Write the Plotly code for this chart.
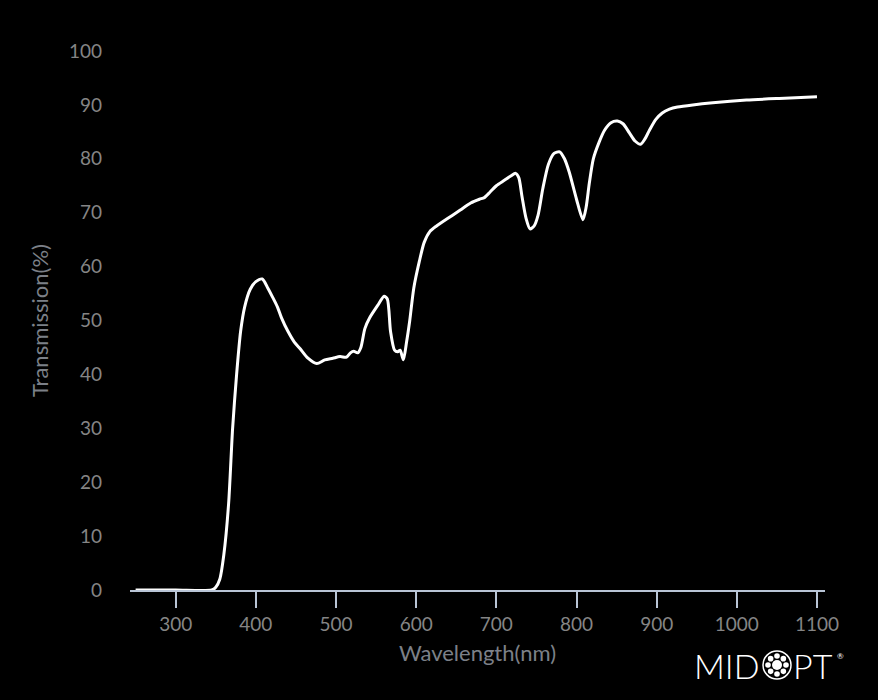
import math
import plotly.graph_objects as go

wavelength = [250, 300, 345, 350, 355, 360, 366, 371, 376, 381, 386, 393, 400, 408, 415, 421, 427, 432, 440, 448,
              455, 465, 476, 486, 496, 505, 513, 518, 522, 527, 531, 536, 542, 552, 560, 564, 568, 573, 577,
              580, 584, 588, 592, 597, 604, 610, 617, 625, 633, 645, 655, 668, 679, 685, 692, 700, 710, 718,
              724, 728, 732, 737, 742, 747, 752, 758, 765, 772, 779, 785, 791, 800, 808, 812, 816, 821, 828,
              835, 843, 851, 858, 866, 873, 880, 885, 891, 899, 907, 916, 926, 945, 970, 1012, 1053, 1100]
transmission = [0, 0, 0, 0.5, 2, 6.5, 16, 30, 40, 48, 52.5, 55.8, 57.2, 57.7, 56, 54.3, 52.5, 50.5, 48, 46,
                44.8, 43, 42, 42.7, 43, 43.3, 43.2, 44, 44.3, 44, 45, 48.5, 50.5, 52.8, 54.5, 54, 48, 44.5, 44.2,
                44.5, 42.7, 46, 50, 56, 61, 64.5, 66.5, 67.5, 68.3, 69.5, 70.5, 71.8, 72.5, 72.8, 73.8, 75, 76, 76.8,
                77.3, 76.5, 73, 69, 67, 67.5, 69.5, 74.5, 79, 81, 81.3, 80, 77.5, 72.5, 68.7, 71, 75.5, 80, 83,
                85.3, 86.7, 87, 86.5, 84.8, 83.3, 82.7, 83.6, 85.3, 87.3, 88.5, 89.2, 89.6, 90.0, 90.4, 90.9, 91.2, 91.5]

x_ticks = [300, 400, 500, 600, 700, 800, 900, 1000, 1100]
y_ticks = [0, 10, 20, 30, 40, 50, 60, 70, 80, 90, 100]

FONT = "Lato"
GRAY = "#858585"
TITLE_GRAY = "#7c8088"

fig = go.Figure()
fig.add_trace(go.Scatter(x=wavelength, y=transmission, mode="lines",
                         line=dict(color="white", width=3, shape="spline", smoothing=0.7),
                         hoverinfo="x+y", showlegend=False))

# Logo geometry (pixel based, anchored in paper coords)
W, H = 878, 700
L, R, T, B = 130, 53, 51, 110
pw, ph = W - L - R, H - T - B
def px(x):
    return (x - L) / pw
def py(y):
    return (H - B - y) / ph

cx, cy = 777, 665
shapes = [dict(type="circle", xref="paper", yref="paper", xsizemode="pixel", ysizemode="pixel",
               xanchor=px(cx), yanchor=py(cy), x0=-14, x1=14, y0=-14, y1=14,
               line=dict(color="white", width=1.5), fillcolor="rgba(0,0,0,0)"),
          dict(type="circle", xref="paper", yref="paper", xsizemode="pixel", ysizemode="pixel",
               xanchor=px(cx), yanchor=py(cy), x0=-5, x1=5, y0=-5, y1=5,
               line=dict(width=0), fillcolor="white")]
for k in range(8):
    a = k * math.pi / 4
    dx, dy = 9 * math.cos(a), 9 * math.sin(a)
    shapes.append(dict(type="circle", xref="paper", yref="paper", xsizemode="pixel", ysizemode="pixel",
                       xanchor=px(cx), yanchor=py(cy), x0=dx - 2.8, x1=dx + 2.8, y0=dy - 2.8, y1=dy + 2.8,
                       line=dict(width=0), fillcolor="white"))

annotations = [
    dict(text="MID", xref="paper", yref="paper", x=px(762), y=py(665), xanchor="right", yanchor="middle",
         showarrow=False, font=dict(family="Lato", size=34, color="white", weight=300)),
    dict(text="PT", xref="paper", yref="paper", x=px(791), y=py(665), xanchor="left", yanchor="middle",
         showarrow=False, font=dict(family="Lato", size=34, color="white", weight=300)),
    dict(text="®", xref="paper", yref="paper", x=px(840), y=py(656), xanchor="center", yanchor="middle",
         showarrow=False, font=dict(family="Lato", size=8, color="white")),
]

fig.update_layout(
    width=W, height=H,
    paper_bgcolor="black", plot_bgcolor="black",
    margin=dict(l=L, r=R, t=T, b=B),
    font=dict(family=FONT, color=GRAY, size=19),
    shapes=shapes, annotations=annotations,
    xaxis=dict(range=[243, 1110], tickvals=x_ticks, ticktext=[str(v) for v in x_ticks],
               showgrid=False, zeroline=False, showline=True, linecolor="#b9c5d6", linewidth=2,
               ticks="outside", ticklen=16, tickwidth=2, tickcolor="#b9c5d6",
               tickfont=dict(family=FONT, size=19, color=GRAY),
               title=dict(text="Wavelength(nm)", font=dict(family=FONT, size=22, color=TITLE_GRAY), standoff=12)),
    yaxis=dict(range=[0, 100], tickvals=y_ticks, ticktext=[str(v) for v in y_ticks],
               showgrid=False, zeroline=False, showline=False, ticks="",
               ticklabelstandoff=27,
               tickfont=dict(family=FONT, size=19, color=GRAY),
               title=dict(text="Transmission(%)", font=dict(family=FONT, size=22, color=TITLE_GRAY), standoff=14)),
)

fig.write_html("out.html", config={"displayModeBar": False},
               post_script="document.body.style.margin='0';document.body.style.background='black';")
